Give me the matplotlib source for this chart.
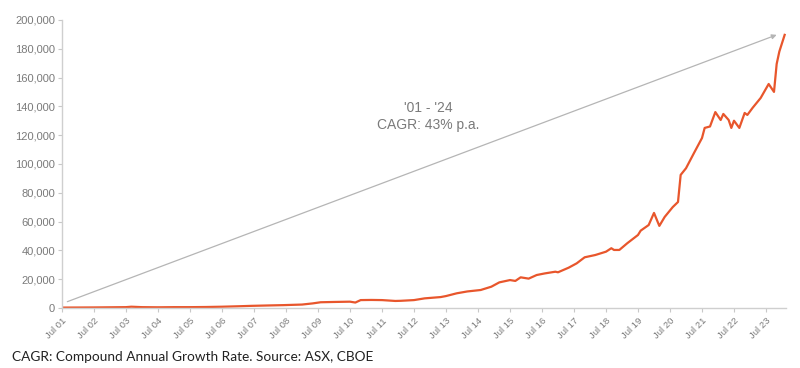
import matplotlib
matplotlib.use("Agg")
import matplotlib.pyplot as plt
import numpy as np

# months since Jul 2001 and index value
months = [0, 6, 12, 18, 24, 26, 30, 36, 42, 48, 54, 60, 66, 71, 78, 83, 90, 94,
          97, 102, 108, 110, 112, 116, 120, 125, 127, 132, 136, 142, 144, 148,
          152, 157, 161, 164, 168, 170, 172, 175, 178, 181, 185, 186, 190, 193,
          196, 200, 204, 206, 207, 209, 212, 216, 217, 220, 222, 224, 226, 229,
          231, 232, 234, 237, 240, 241, 243, 245, 247, 248, 250, 251, 252, 254,
          256, 257, 259, 262, 265, 267, 268, 269, 271]
values = [300, 350, 400, 500, 600, 900, 600, 500, 600, 600, 700, 900, 1200,
          1500, 1800, 2000, 2400, 3200, 4000, 4200, 4400, 3800, 5500, 5600,
          5500, 4900, 5000, 5500, 6700, 7600, 8300, 10200, 11500, 12500, 14800,
          17800, 19400, 18800, 21300, 20400, 22900, 24000, 25200, 24800, 28000,
          31000, 35200, 36800, 39100, 41500, 40300, 40300, 45000, 50700, 53700,
          57600, 66000, 57000, 63200, 70000, 73600, 92400, 97000, 107600,
          118000, 125000, 126000, 136000, 130500, 134700, 130500, 125000,
          130000, 125000, 135400, 134000, 139000, 145800, 155500, 150000,
          169400, 178000, 189600]
tick_labels = [f"Jul {y:02d}" for y in range(1, 24)]

arrow_start = (2, 4400)
arrow_end = (268, 189600)

line_color = "#E8562C"
grey = "#7a7a7a"

fig = plt.figure(figsize=(8, 3.68), dpi=100)
ax = fig.add_axes([0.0775, 0.163, 0.905, 0.783])

x = np.array(months) / 12
ax.plot(x, values, color=line_color, lw=1.6)

ax.annotate("", xy=(arrow_end[0] / 12, arrow_end[1]),
            xytext=(arrow_start[0] / 12, arrow_start[1]),
            arrowprops=dict(arrowstyle="-|>", color="#b5b5b5", lw=0.9,
                            mutation_scale=7, shrinkA=0, shrinkB=0))
ax.text(11.45, 133000, "'01 - '24\nCAGR: 43% p.a.", ha="center", va="center",
        color=grey, fontsize=10, family="Liberation Sans", linespacing=1.2)

ax.set_xlim(0, 22.625)
ax.set_ylim(0, 200000)
ax.set_xticks(range(len(tick_labels)))
ax.set_xticklabels(tick_labels, rotation=45, ha="right", rotation_mode="anchor",
                   fontsize=6.8, color=grey, family="Liberation Sans")
yt = np.arange(0, 200001, 20000)
ax.set_yticks(yt)
ax.set_yticklabels([f"{v:,}" for v in yt], fontsize=8, color=grey,
                   family="Liberation Sans")
ax.tick_params(axis="both", length=3, width=0.8, color="#c8c8c8", pad=2)
ax.tick_params(axis="x", pad=3)

for s in ["top", "right"]:
    ax.spines[s].set_visible(False)
for s in ["left", "bottom"]:
    ax.spines[s].set_color("#cfcfcf")
    ax.spines[s].set_linewidth(1)

fig.text(0.015, 0.018, "CAGR: Compound Annual Growth Rate. Source: ASX, CBOE",
         fontsize=9.8, color="#222222", family="Lato")

fig.savefig("out.png", dpi=100)
